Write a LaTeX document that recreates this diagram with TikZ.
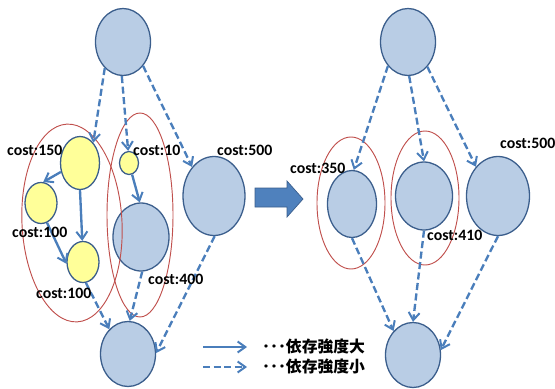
\documentclass[tikz,border=0pt]{standalone}
\usepackage{fontspec}
\setmainfont{Carlito}
\newfontfamily\jpfont{Noto Sans CJK JP}
\usepackage{tikz}
\usetikzlibrary{arrows.meta, positioning, shapes.geometric}
\usepackage{xcolor}
\definecolor{nodefill}{HTML}{B9CDE5}
\definecolor{nodeline}{HTML}{3B5E8C}
\definecolor{tipfill}{HTML}{FFFF99}
\definecolor{linkblue}{HTML}{4A7EBB}
\definecolor{grpred}{HTML}{C0504D}
\definecolor{bigarrow}{HTML}{4F81BD}

\begin{document}
\begin{tikzpicture}[x=0.03cm, y=-0.03cm,
  task/.style={ellipse, draw=nodeline, fill=nodefill, line width=1.1pt,
               inner sep=0pt},
  sub/.style={ellipse, draw=nodeline, fill=tipfill, line width=1.1pt,
              inner sep=0pt},
  grp/.style={ellipse, draw=grpred, line width=0.8pt, inner sep=0pt},
  cost/.style={anchor=west, inner sep=0pt,
               font=\fontsize{13.5}{14}\selectfont\bfseries},
  strong/.style={-{Straight Barb[length=2.3mm, width=3.3mm, line width=1.7pt]},
                 draw=linkblue, line width=2pt},
  weak/.style={strong, dash pattern=on 6pt off 3pt}
]
\useasboundingbox (0,0) rectangle (555,388);
% left graph
\node[task, minimum width=1.65cm, minimum height=2.01cm] (Lt) at (123,42) {};
\node[sub,  minimum width=1.17cm, minimum height=1.59cm] (Ly1) at (80,163) {};
\node[sub,  minimum width=0.57cm, minimum height=0.69cm] (Ly2) at (129,163) {};
\node[task, minimum width=1.86cm, minimum height=2.37cm] (L5) at (214,196) {};
\node[sub,  minimum width=0.96cm, minimum height=1.23cm] (Ly3) at (41,203) {};
\node[sub,  minimum width=0.96cm, minimum height=1.23cm] (Ly4) at (83,262) {};
\node[task, minimum width=1.68cm, minimum height=2.04cm] (L4) at (141,237) {};
\node[task, minimum width=1.65cm, minimum height=1.95cm] (Lb) at (128,354) {};
% right graph
\node[task, minimum width=1.65cm, minimum height=2.01cm] (Rt) at (408,42) {};
\node[task, minimum width=1.47cm, minimum height=2.01cm] (R35) at (352,204) {};
\node[task, minimum width=1.71cm, minimum height=2.04cm] (R41) at (424,196) {};
\node[task, minimum width=1.89cm, minimum height=2.37cm] (R5) at (498,196) {};
\node[task, minimum width=1.65cm, minimum height=1.95cm] (Rb) at (413,355) {};
% groups
\node[grp, minimum width=3.0cm, minimum height=5.94cm, rotate=3] (G1) at (72,223) {};
\node[grp, minimum width=1.98cm, minimum height=6.12cm] (G2) at (140,215) {};
\node[grp, minimum width=2.04cm, minimum height=3.96cm] (G3) at (351,203) {};
\node[grp, minimum width=2.04cm, minimum height=4.02cm] (G4) at (425,198) {};
% links, left
\draw[weak] (Lt.235) -- (Ly1.57);
\draw[weak] (Lt.268) -- (Ly2.94);
\draw[weak] (Lt.310) -- (L5.127);
\draw[strong] (Ly1.205) -- (Ly3.84);
\draw[strong] (Ly1.270) -- (Ly4.92);
\draw[strong] (Ly3.287) -- (Ly4.186);
\draw[strong] (Ly2.285) -- (L4.92);
\draw[weak] (Ly4.278) -- (Lb.127);
\draw[weak] (L4.272) -- (Lb.87);
\draw[weak] (L5.271) -- (Lb.2);
% links, right
\draw[weak] (Rt.230) -- (R35.87);
\draw[weak] (Rt.272) -- (R41.90);
\draw[weak] (Rt.308) -- (R5.127);
\draw[weak] (R35.270) -- (Rb.129);
\draw[weak] (R41.270) -- (Rb.90);
\draw[weak] (R5.270) -- (Rb.10);
% costs
\node[cost] (c150) at (7,150) {cost:150};
\node[cost] (c10) at (133,150) {cost:10};
\node[cost] (c500l) at (217,150) {cost:500};
\node[cost] (c100a) at (12,232) {cost:100};
\node[cost] (c100b) at (36,293) {cost:100};
\node[cost] (c400) at (148,279) {cost:400};
\node[cost] (c350) at (290,168) {cost:350};
\node[cost] (c410) at (427,235) {cost:410};
\node[cost] (c500r) at (500,143) {cost:500};
% big arrow
\fill[bigarrow, draw=nodeline, line width=0.6pt]
  (255,188) -- (287,188) -- (287,181) -- (303,199) -- (287,217)
  -- (287,207) -- (255,207) -- cycle;
% legend
\coordinate (s0) at (203,347);
\coordinate (s1) at (247,347);
\coordinate (w0) at (203,367);
\coordinate (w1) at (247,367);
\draw[strong] (s0) -- (s1);
\draw[weak] (w0) -- (w1);
\node[anchor=west, inner sep=0pt, font=\jpfont\fontsize{13.5}{14}\selectfont\bfseries]
  (ls) at (262,347) {･･･依存強度大};
\node[anchor=west, inner sep=0pt, font=\jpfont\fontsize{13.5}{14}\selectfont\bfseries]
  (lw) at (262,367) {･･･依存強度小};
\end{tikzpicture}
\end{document}
